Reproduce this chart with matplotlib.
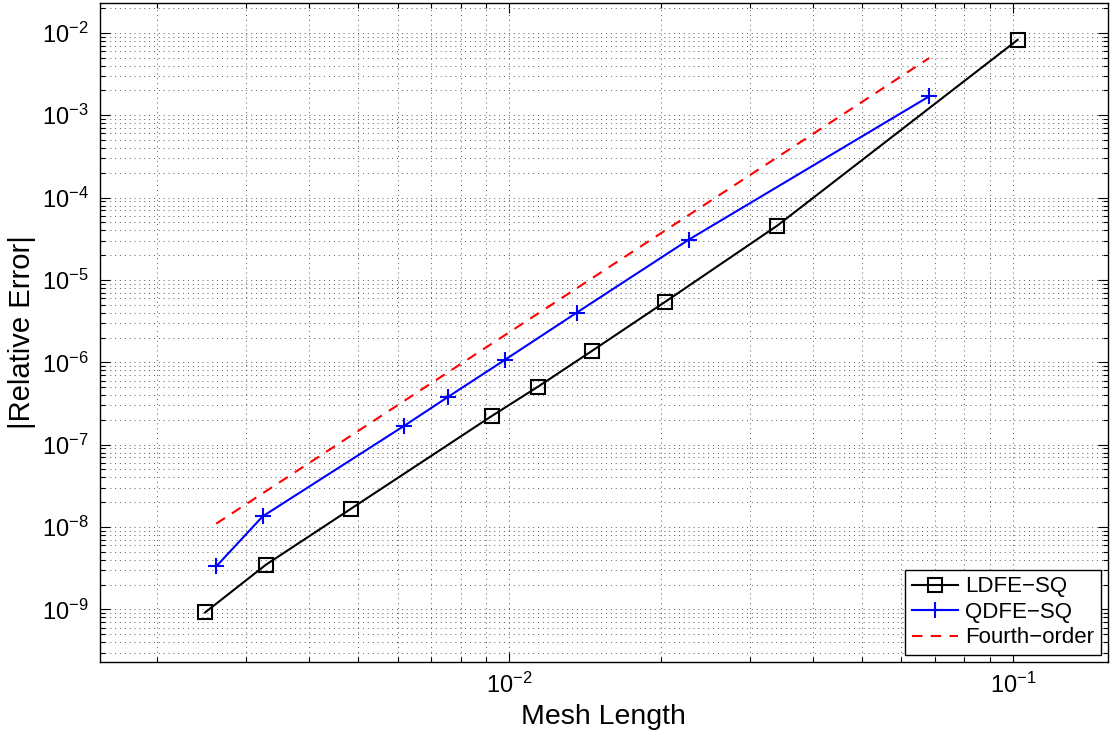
import numpy as np
import matplotlib
matplotlib.use("Agg")
import matplotlib.pyplot as plt
from matplotlib.ticker import LogLocator, NullFormatter

plt.rcParams['font.family'] = ['Liberation Sans', 'DejaVu Sans']
plt.rcParams['mathtext.fontset'] = 'custom'
plt.rcParams['mathtext.rm'] = 'Liberation Sans'
plt.rcParams['mathtext.it'] = 'Liberation Sans:italic'

# data
ldfe_h = [2.49e-3, 3.29e-3, 4.85e-3, 9.25e-3, 1.14e-2, 1.46e-2, 2.04e-2, 3.40e-2, 1.02e-1]
ldfe_err = [9.2e-10, 3.5e-9, 1.67e-8, 2.25e-7, 5.06e-7, 1.38e-6, 5.44e-6, 4.55e-5, 8.2e-3]

qdfe_h = [2.62e-3, 3.24e-3, 6.19e-3, 7.57e-3, 9.82e-3, 1.36e-2, 2.27e-2, 6.81e-2]
qdfe_err = [3.33e-9, 1.35e-8, 1.70e-7, 3.83e-7, 1.08e-6, 4.0e-6, 3.08e-5, 1.69e-3]

ref_h = [2.62e-3, 6.81e-2]
ref_err = [1.1e-8, 4.93e-3]

xticks = [1e-2, 1e-1]
yticks = [1e-9, 1e-8, 1e-7, 1e-6, 1e-5, 1e-4, 1e-3, 1e-2]

fig = plt.figure(figsize=(11.1, 7.34), dpi=100)
ax = fig.add_axes([0.090, 0.098, 0.908, 0.898])

ax.loglog(ldfe_h, ldfe_err, color='k', lw=1.5, marker='s', ms=9.5,
          mfc='none', mew=1.5, label='LDFE\u2212SQ')
ax.loglog(qdfe_h, qdfe_err, color='#0000ff', lw=1.5, marker='+', ms=11,
          mew=1.5, label='QDFE\u2212SQ')
ax.loglog(ref_h, ref_err, color='#ff0000', lw=1.5, ls=(0, (5, 4)),
          label='Fourth\u2212order')

ax.set_xlim(1.54e-3, 0.154)
ax.set_ylim(2.3e-10, 2.3e-2)

ax.set_xticks(xticks)
ax.set_yticks(yticks)
ax.xaxis.set_minor_locator(LogLocator(base=10, subs=np.arange(2, 10), numticks=20))
ax.yaxis.set_minor_locator(LogLocator(base=10, subs=np.arange(2, 10), numticks=20))
ax.xaxis.set_minor_formatter(NullFormatter())
ax.yaxis.set_minor_formatter(NullFormatter())

ax.grid(True, which='both', ls=(0, (1, 4)), color='0.35', lw=0.7)
ax.tick_params(which='both', direction='in', top=True, right=True,
               labelsize=17, width=0.8)
ax.tick_params(which='major', length=7, pad=8)
ax.tick_params(which='minor', length=3.5)
for s in ax.spines.values():
    s.set_linewidth(1.0)

ax.set_xlabel('Mesh Length', fontsize=20.5, labelpad=4)
ax.set_ylabel('|Relative Error|', fontsize=21, labelpad=4)

leg = ax.legend(loc='lower right', fontsize=16, frameon=True, fancybox=False,
                edgecolor='k', framealpha=1, handlelength=2.1,
                borderaxespad=0.32, borderpad=0.3, labelspacing=0.2,
                handletextpad=0.3)
leg.get_frame().set_linewidth(1.0)

fig.savefig('out.png', dpi=100)
